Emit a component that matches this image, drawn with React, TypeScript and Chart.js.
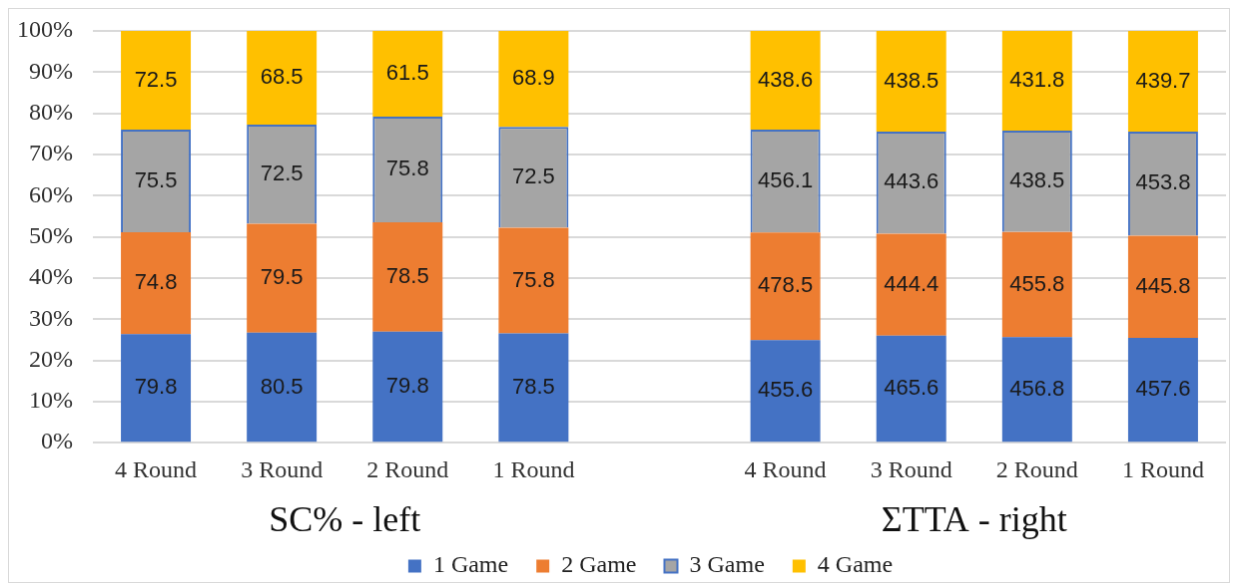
import React, { useEffect, useRef } from "react";
import { Chart, registerables } from "chart.js";

Chart.register(...registerables);

const categories = ["4 Round", "3 Round", "2 Round", "1 Round", "", "4 Round", "3 Round", "2 Round", "1 Round"];
const groupLabels = ["SC% - left", "ΣTTA - right"];
const groupPositions = [1.5, 6.5];
const seriesNames = ["1 Game", "2 Game", "3 Game", "4 Game"];
const game1 = [79.8, 80.5, 79.8, 78.5, null, 455.6, 465.6, 456.8, 457.6];
const game2 = [74.8, 79.5, 78.5, 75.8, null, 478.5, 444.4, 455.8, 445.8];
const game3 = [75.5, 72.5, 75.8, 72.5, null, 456.1, 443.6, 438.5, 453.8];
const game4 = [72.5, 68.5, 61.5, 68.9, null, 438.6, 438.5, 431.8, 439.7];
const yTicks = [0, 10, 20, 30, 40, 50, 60, 70, 80, 90, 100];

const SERIF = "'Liberation Serif', 'Times New Roman', serif";
const SANS = "'Liberation Sans', Arial, sans-serif";

export default function App() {
  const ref = useRef<HTMLCanvasElement | null>(null);

  useEffect(() => {
    if (!ref.current) return;
    const raw = [game1, game2, game3, game4];
    const totals = categories.map((_, i) =>
      raw.reduce((s, arr) => s + ((arr[i] as number) || 0), 0)
    );
    const pct = raw.map((arr) =>
      arr.map((v, i) => (v == null ? null : ((v as number) / totals[i]) * 100))
    );
    const fills = ["#4472C4", "#ED7D31", "#A5A5A5", "#FFC000"];
    const borders = ["#4472C4", "#ED7D31", "#4472C4", "#FFC000"];
    const bw = [0, 0, 2, 0];

    const labelPlugin = {
      id: "valueLabels",
      afterDatasetsDraw(chart: any) {
        const ctx = chart.ctx;
        ctx.save();
        ctx.font = `22px ${SANS}`;
        ctx.fillStyle = "#1a1a1a";
        ctx.textAlign = "center";
        ctx.textBaseline = "middle";
        chart.data.datasets.forEach((ds: any, di: number) => {
          const meta = chart.getDatasetMeta(di);
          meta.data.forEach((el: any, i: number) => {
            const v = raw[di][i];
            if (v == null) return;
            const p = el.getCenterPoint();
            ctx.fillText((v as number).toFixed(1), p.x, p.y);
          });
        });
        ctx.restore();
      },
    };

    const chart = new Chart(ref.current, {
      type: "bar",
      data: {
        labels: categories,
        datasets: seriesNames.map((name, k) => ({
          label: name,
          data: pct[k],
          backgroundColor: fills[k],
          borderColor: borders[k],
          borderWidth: bw[k],
          categoryPercentage: 1,
          barPercentage: 0.555,
          xAxisID: "x",
        })),
      },
      options: {
        responsive: false,
        animation: false,
        layout: { padding: { left: -12, right: 3, top: 22, bottom: -6 } },
        plugins: {
          tooltip: { enabled: false },
          legend: {
            position: "bottom",
            fullSize: false,
            labels: {
              boxWidth: 13,
              boxHeight: 13,
              padding: 10,
              color: "#222",
              font: { family: SERIF, size: 24 },
              generateLabels: (chart: any) => {
                const items = Chart.defaults.plugins.legend.labels.generateLabels(chart);
                return items.map((it: any) => ({ ...it, text: it.text + "   " }));
              },
            },
          },
        },
        scales: {
          x: {
            type: "category",
            stacked: true,
            weight: 0,
            grid: { display: false, drawTicks: false },
            border: { display: false },
            ticks: { color: "#333", font: { family: SERIF, size: 24 }, padding: 14, maxRotation: 0, autoSkip: false },
          },
          x2: {
            type: "linear",
            position: "bottom",
            min: -0.5,
            max: 8.5,
            offset: false,
            bounds: "data",
            weight: 1,
            grid: { display: false, drawTicks: false },
            border: { display: false },
            afterBuildTicks: (axis: any) => {
              axis.ticks = groupPositions.map((v) => ({ value: v }));
            },
            ticks: {
              color: "#111",
              font: { family: SERIF, size: 36, lineHeight: 1.25 },
              padding: 0,
              maxRotation: 0,
              autoSkip: false,
              callback: (v: any) => {
                const idx = groupPositions.indexOf(Number(v));
                return idx >= 0 ? groupLabels[idx] : "";
              },
            },
          },
          y: {
            stacked: true,
            min: 0,
            max: 100,
            afterBuildTicks: (axis: any) => {
              axis.ticks = yTicks.map((v) => ({ value: v }));
            },
            afterFit: (axis: any) => {
              axis.paddingTop = 0;
              axis.paddingBottom = 0;
            },
            grid: { color: "#D9D9D9", lineWidth: 2, drawTicks: false },
            border: { display: false },
            ticks: {
              color: "#333",
              font: { family: SERIF, size: 24 },
              padding: 20,
              callback: (v: any) => `${v}%`,
            },
          },
        },
      },
      plugins: [labelPlugin],
    });
    return () => chart.destroy();
  }, []);

  return (
    <canvas
      ref={ref}
      width={1222}
      height={575}
      style={{ display: "block", border: "1px solid #D9D9D9" }}
    />
  );
}
